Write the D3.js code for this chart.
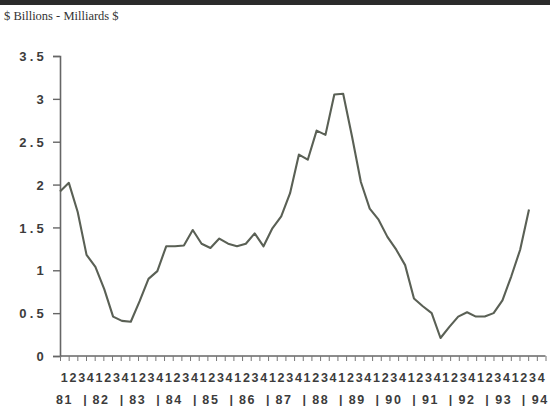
<!DOCTYPE html>
<html><head><meta charset="utf-8">
<script src="https://cdn.jsdelivr.net/npm/d3@7"></script>
<style>body{margin:0;background:#fff}svg{display:block}</style>
</head><body>
<svg id="c" width="550" height="406"></svg>
<script>
// ---- data ----
const years = ["81","82","83","84","85","86","87","88","89","90","91","92","93","94"];
const quarterDigits = ["1","2","3","4"];
// quarterly values, 1981 Q1 .. 1994 Q2 ($ billions)
const values = [
  1.92, 2.02, 1.68, 1.18,   // 81
  1.04, 0.78, 0.46, 0.41,   // 82
  0.40, 0.64, 0.90, 0.99,   // 83
  1.28, 1.28, 1.29, 1.47,   // 84
  1.31, 1.26, 1.37, 1.31,   // 85
  1.28, 1.31, 1.43, 1.28,   // 86
  1.49, 1.63, 1.90, 2.35,   // 87
  2.29, 2.63, 2.58, 3.05,   // 88
  3.06, 2.56, 2.03, 1.72,   // 89
  1.59, 1.39, 1.24, 1.06,   // 90
  0.67, 0.58, 0.50, 0.21,   // 91
  0.34, 0.46, 0.51, 0.46,   // 92
  0.46, 0.50, 0.65, 0.93,   // 93
  1.24, 1.71                // 94
];
const yTicks = [0, 0.5, 1, 1.5, 2, 2.5, 3, 3.5];
const yTickLabels = ["0", "0.5", "1", "1.5", "2", "2.5", "3", "3.5"];
const title = "$ Billions - Milliards $";

// ---- derived tables ----
const quarterLabels = [];
years.forEach(y => quarterDigits.forEach(q => quarterLabels.push({year: y, q: q})));

// ---- layout ----
const svg = d3.select("#c");
const mLeft = 60, mBottom = 356, mTop = 56;
const ink = "#3c3c3c";
const sans = "Liberation Sans, Arial, sans-serif";

svg.append("rect").attr("x",0).attr("y",0).attr("width",550).attr("height",406).attr("fill","#fff");
svg.append("rect").attr("x",0).attr("y",0).attr("width",550).attr("height",5).attr("fill","#2b2b2b");

svg.append("text").attr("x",4).attr("y",19.5)
  .attr("font-family","Liberation Serif, Times New Roman, serif")
  .attr("font-size",12.5).attr("fill","#333").text(title);

const y = d3.scaleLinear().domain([0, 3.5]).range([mBottom, mTop]);
const xData = d3.scaleLinear().domain([0, values.length - 1]).range([mLeft, 529]);
const xTick = d3.scaleLinear().domain([0, quarterLabels.length]).range([mLeft, 545.5]);

// y axis
const yAxis = d3.axisLeft(y).tickValues(yTicks).tickSize(7).tickPadding(0)
  .tickFormat((d,i) => yTickLabels[i]);
const gy = svg.append("g").attr("transform", `translate(${mLeft},0)`).call(yAxis);
gy.select(".domain").attr("stroke","#666").attr("stroke-width",1.6);
gy.selectAll(".tick line").attr("stroke","#666").attr("stroke-width",1.4);
gy.selectAll(".tick text").attr("x",-13).attr("dy","0.36em")
  .attr("font-family",sans).attr("font-weight","bold")
  .attr("font-size",13).attr("letter-spacing","3.2px").attr("fill",ink);

// x axis ticks
const xAxis = d3.axisBottom(xTick).tickValues(d3.range(0, quarterLabels.length + 1))
  .tickSize(5).tickFormat("");
const gx = svg.append("g").attr("transform", `translate(0,${mBottom})`).call(xAxis);
gx.select(".domain").attr("stroke","#666").attr("stroke-width",1.6).attr("d", `M${mLeft},0H545.5`);
gx.selectAll(".tick line").attr("stroke","#777").attr("stroke-width",1);

// quarter digits
svg.append("g").selectAll("text").data(quarterLabels).join("text")
  .attr("x", (d,i) => xTick(i + 0.5)).attr("y", 381.5)
  .attr("text-anchor","middle")
  .attr("font-family",sans).attr("font-weight","bold")
  .attr("font-size",12.5).attr("fill",ink).text(d => d.q);

// year labels and separators
const xYear = d3.scalePoint().domain(years).range([63.5, 539.3]);
svg.append("g").selectAll("text").data(years).join("text")
  .attr("x", d => xYear(d) + 1).attr("y", 403.5)
  .attr("text-anchor","middle").attr("letter-spacing","1.6px")
  .attr("font-family",sans).attr("font-weight","bold")
  .attr("font-size",12.5).attr("fill",ink).text(d => d);
const xSep = d3.scaleLinear().domain([0, years.length - 2]).range([85, 523.5]);
svg.append("g").selectAll("text").data(years.slice(0, -1)).join("text")
  .attr("x", (d,i) => xSep(i)).attr("y", 403.5)
  .attr("text-anchor","middle")
  .attr("font-family",sans).attr("font-weight","bold")
  .attr("font-size",12.5).attr("fill",ink).text("|");

// line
const line = d3.line().x((d,i) => xData(i)).y(d => y(d));
svg.append("path").datum(values).attr("d", line)
  .attr("fill","none").attr("stroke","#5a6055").attr("stroke-width",2.1)
  .attr("stroke-linejoin","round");
</script>
</body></html>
